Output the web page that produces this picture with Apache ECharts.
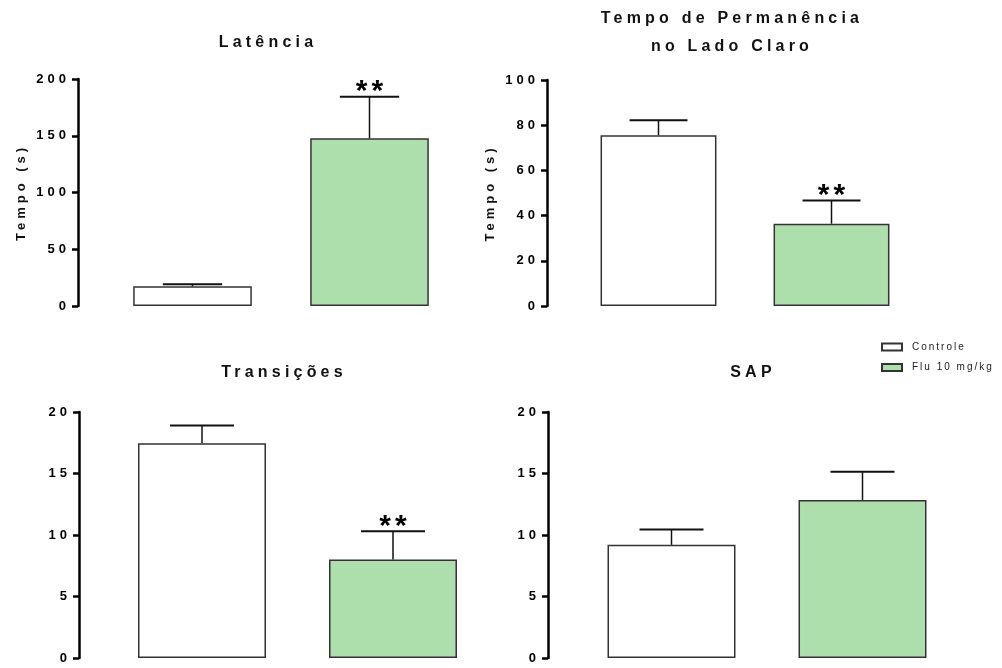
<!DOCTYPE html>
<html>
<head>
<meta charset="utf-8">
<script src="https://cdn.jsdelivr.net/npm/echarts@6/dist/echarts.min.js"></script>
<style>html,body{margin:0;padding:0;background:#fff}#c{width:1002px;height:668px}</style>
</head>
<body>
<div id="c"></div>
<script>
// ---- data ----
const groups = ['Controle', 'Flu 10 mg/kg'];
const titles = ['Latência', 'Tempo de Permanência\nno Lado Claro', 'Transições', 'SAP'];
const yNames = ['Tempo (s)', 'Tempo (s)', '', ''];
const latMean = [17.4, 147.7];
const latSem = [1.7, 36.7];
const latSig = ['', '**'];
const permMean = [75.6, 36.4];
const permSem = [6.6, 10.3];
const permSig = ['', '**'];
const transMean = [17.45, 8.0];
const transSem = [1.45, 2.3];
const transSig = ['', '**'];
const sapMean = [9.2, 12.85];
const sapSem = [1.25, 2.3];
const sapSig = ['', ''];
const yMax = [200, 100, 20, 20];
const yStep = [50, 20, 5, 5];

// ---- letter spacing for text (Prism-style spaced lettering) ----
const SPACING = { '16': '4.2px', '13': '4px', '10': '2px', '30': '4px' };
const origFillText = CanvasRenderingContext2D.prototype.fillText;
CanvasRenderingContext2D.prototype.fillText = function (t, x, y, w) {
  const m = /(\d+(?:\.\d+)?)px/.exec(this.font);
  this.letterSpacing = (m && SPACING[m[1]]) || '0px';
  return arguments.length > 3 ? origFillText.call(this, t, x, y, w) : origFillText.call(this, t, x, y);
};

const FONT = 'Liberation Sans';
const GREEN = '#addfad';
const BORDER = '#333';
const BAR_FRAC = 0.67;

const panels = [
  { mean: latMean, sem: latSem, sig: latSig },
  { mean: permMean, sem: permSem, sig: permSig },
  { mean: transMean, sem: transSem, sig: transSig },
  { mean: sapMean, sem: sapSem, sig: sapSig }
];
const gridPos = [
  { left: 104, top: 79, width: 354, height: 227, offset: 26, titleX: 268, titleTop: 33 },
  { left: 572, top: 80, width: 346, height: 226, offset: 25, titleX: 732, titleTop: 5 },
  { left: 106.5, top: 412, width: 382, height: 246, offset: 27.5, titleX: 284, titleTop: 363 },
  { left: 576, top: 412, width: 382, height: 246, offset: 28, titleX: 753, titleTop: 363 }
];

function makeRender(sig) {
  return function (params, api) {
    const cat = api.value(0), mean = api.value(1), sem = api.value(2);
    const base = api.coord([cat, mean]);
    const top = api.coord([cat, mean + sem]);
    const band = api.size([1, 0])[0];
    const half = band * BAR_FRAC / 4;
    const children = [
      { type: 'line', shape: { x1: base[0], y1: base[1], x2: top[0], y2: top[1] }, style: { stroke: '#111', lineWidth: 1.5 } },
      { type: 'line', shape: { x1: top[0] - half, y1: top[1], x2: top[0] + half, y2: top[1] }, style: { stroke: '#111', lineWidth: 2 } }
    ];
    const s = sig[params.dataIndex];
    if (s) {
      children.push({ type: 'text', x: top[0] + 2, y: top[1] - 5,
        style: { text: s, fill: '#000', font: 'bold 30px "' + FONT + '"', align: 'center', verticalAlign: 'middle' } });
    }
    return { type: 'group', children: children };
  };
}

const option = {
  animation: false,
  backgroundColor: '#fff',
  title: [], grid: [], xAxis: [], yAxis: [], series: [],
  legend: {
    data: groups, orient: 'vertical', left: 876, top: 337,
    itemWidth: 20, itemHeight: 7, itemGap: 10.5, icon: 'rect',
    textStyle: { fontFamily: FONT, fontSize: 10, color: '#222', padding: [0, 0, 0, 5] }
  }
};

panels.forEach(function (p, i) {
  const g = gridPos[i];
  option.title.push({
    text: titles[i], left: g.titleX, top: g.titleTop, textAlign: 'center', padding: 0,
    textStyle: { fontFamily: FONT, fontSize: 16, fontWeight: 'bold', color: '#111', lineHeight: i === 1 ? 28 : 20 }
  });
  option.grid.push({ left: g.left, top: g.top, width: g.width, height: g.height });
  option.xAxis.push({
    type: 'category', gridIndex: i, data: groups,
    axisLine: { show: false }, axisTick: { show: false }, axisLabel: { show: false }
  });
  option.yAxis.push({
    type: 'value', gridIndex: i, min: 0, max: yMax[i], interval: yStep[i], offset: g.offset,
    name: yNames[i], nameLocation: 'middle', nameGap: 50,
    nameTextStyle: { fontFamily: FONT, fontSize: 13, fontWeight: 'bold', color: '#111' },
    axisLine: { show: true, lineStyle: { color: '#000', width: 2.5 } },
    axisTick: { show: true, length: 6, lineStyle: { color: '#000', width: 2.5 } },
    axisLabel: { fontFamily: FONT, fontSize: 13, fontWeight: 'bold', color: '#000', margin: 8 },
    splitLine: { show: false }
  });
  option.series.push({
    name: groups[0], type: 'bar', xAxisIndex: i, yAxisIndex: i,
    data: [p.mean[0], '-'], barWidth: (BAR_FRAC * 100) + '%', barGap: '-100%',
    itemStyle: { color: '#fff', borderColor: BORDER, borderWidth: 1.5 }
  });
  option.series.push({
    name: groups[1], type: 'bar', xAxisIndex: i, yAxisIndex: i,
    data: ['-', p.mean[1]], barWidth: (BAR_FRAC * 100) + '%', barGap: '-100%',
    itemStyle: { color: GREEN, borderColor: BORDER, borderWidth: 1.5 }
  });
  option.series.push({
    type: 'custom', xAxisIndex: i, yAxisIndex: i, z: 5,
    renderItem: makeRender(p.sig),
    data: p.mean.map(function (m, k) { return [k, m, p.sem[k]]; })
  });
});

const chart = echarts.init(document.getElementById('c'), null, { renderer: 'canvas' });
chart.setOption(option);
</script>
</body>
</html>
